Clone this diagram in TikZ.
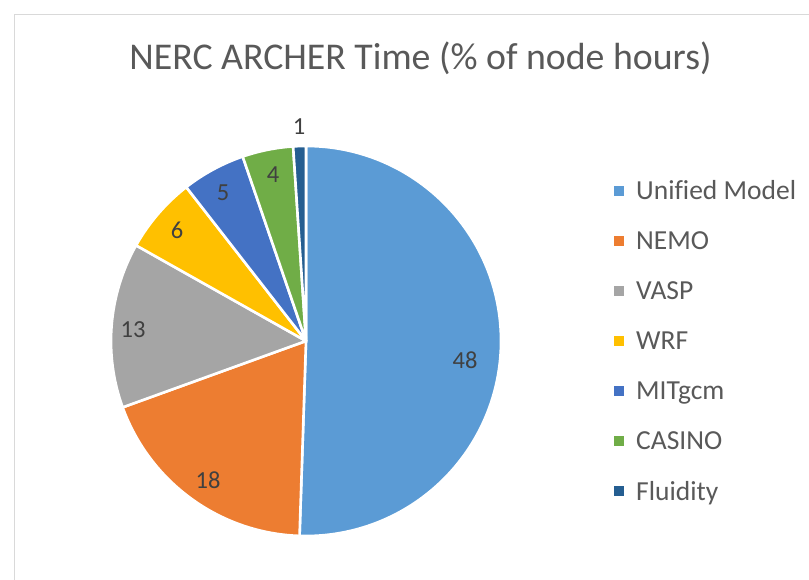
\documentclass[tikz,border=0pt]{standalone}
\usepackage{fontspec}
\setmainfont{Carlito}[Ligatures=NoCommon]
\definecolor{cUM}{HTML}{5B9BD5}
\definecolor{cNEMO}{HTML}{ED7D31}
\definecolor{cVASP}{HTML}{A5A5A5}
\definecolor{cWRF}{HTML}{FFC000}
\definecolor{cMIT}{HTML}{4472C4}
\definecolor{cCAS}{HTML}{70AD47}
\definecolor{cFLU}{HTML}{255E91}
\definecolor{txtgray}{HTML}{595959}
\definecolor{lblgray}{HTML}{404040}
\definecolor{framegray}{HTML}{D9D9D9}
\tikzset{
  slice/.style={draw=white, line width=2.6pt, line join=round},
  lbl/.style={text=lblgray, font=\fontsize{24.5}{26}\selectfont, inner sep=0pt},
  legtxt/.style={text=txtgray, font=\fontsize{27.5}{30}\selectfont, anchor=base west, inner sep=0pt},
  legbox/.style={minimum size=10pt, inner sep=0pt, draw=none},
}
\begin{document}
\begin{tikzpicture}[x=1pt,y=1pt]
\useasboundingbox (0,0) rectangle (809,579);
\fill[white] (0,0) rectangle (809,579);
\draw[framegray, line width=1.5pt] (14.5,-5) -- (14.5,564.5) -- (815,564.5);
\node[text=txtgray, font=\fontsize{37.8}{40}\selectfont, anchor=base, inner sep=0pt] (title) at (420.5,509) {NERC ARCHER Time (\% of node hours)};
\coordinate (c) at (306,238);
\def\R{195}
\fill[cUM, slice] (c) -- ++(90:\R) arc[start angle=90, end angle=-91.895, radius=\R] -- cycle;
\fill[cNEMO, slice] (c) -- ++(-91.895:\R) arc[start angle=-91.895, end angle=-160.105, radius=\R] -- cycle;
\fill[cVASP, slice] (c) -- ++(-160.105:\R) arc[start angle=-160.105, end angle=-209.368, radius=\R] -- cycle;
\fill[cWRF, slice] (c) -- ++(-209.368:\R) arc[start angle=-209.368, end angle=-232.105, radius=\R] -- cycle;
\fill[cMIT, slice] (c) -- ++(-232.105:\R) arc[start angle=-232.105, end angle=-251.053, radius=\R] -- cycle;
\fill[cCAS, slice] (c) -- ++(-251.053:\R) arc[start angle=-251.053, end angle=-266.211, radius=\R] -- cycle;
\fill[cFLU, slice] (c) -- ++(-266.211:\R) arc[start angle=-266.211, end angle=-270, radius=\R] -- cycle;
\node[lbl] (l48) at (465,219) {48};
\node[lbl] (l18) at (208,99) {18};
\node[lbl] (l13) at (133,249) {13};
\node[lbl] (l6) at (177,349) {6};
\node[lbl] (l5) at (223,386) {5};
\node[lbl] (l4) at (273,404) {4};
\node[lbl] (l1) at (299,452) {1};
\foreach \c/\t [count=\i from 0] in {cUM/Unified Model, cNEMO/NEMO, cVASP/VASP, cWRF/WRF, cMIT/MITgcm, cCAS/CASINO, cFLU/Fluidity}{
  \node[legbox, fill=\c] (m\i) at (619,388-50*\i) {};
  \node[legtxt] (t\i) at (636,379-50*\i) {\t};
}
\end{tikzpicture}
\end{document}
